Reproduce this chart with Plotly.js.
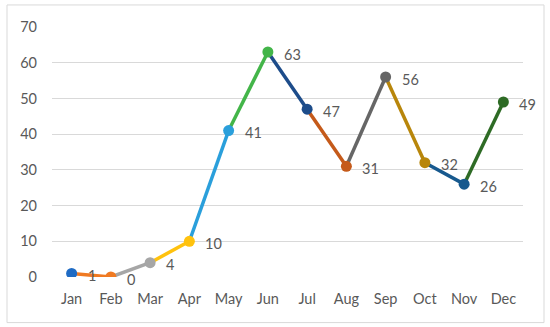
<!DOCTYPE html>
<html><head><meta charset="utf-8">
<script src="https://cdn.plot.ly/plotly-3.0.1.min.js"></script>
<style>html,body{margin:0;padding:0;background:#fff}#c{width:550px;height:327px}</style>
</head><body><div id="c"></div>
<script>
const months = ["Jan","Feb","Mar","Apr","May","Jun","Jul","Aug","Sep","Oct","Nov","Dec"];
const values = [1,0,4,10,41,63,47,31,56,32,26,49];
const colors = ["#1F6BC4","#F07A22","#A6A6A6","#FFC20E","#2A9FDB","#43B549","#1D4C8A","#C55A1A","#666666","#B8860B","#17598E","#2E6B25"];

const traces = [];
for (let i = 1; i < months.length; i++) {
  traces.push({x:[months[i-1],months[i]], y:[values[i-1],values[i]], type:'scatter', mode:'lines',
    line:{color:colors[i], width:3.5}, hoverinfo:'skip', showlegend:false});
}
traces.push({x:months, y:values, type:'scatter', mode:'markers',
  marker:{color:colors, size:11}, showlegend:false});

const annotations = months.map((m,i)=>({x:m, y:values[i], xref:'x', yref:'y', text:String(values[i]),
  showarrow:false, xanchor:'left', xshift:14, yshift:-2, font:{family:'Lato, sans-serif', size:14.5, color:'#595959'}}));

const layout = {
  width:550, height:327,
  margin:{l:52, r:27, t:27, b:50},
  paper_bgcolor:'#fff', plot_bgcolor:'#fff',
  font:{family:'Lato, sans-serif', size:14.5, color:'#595959'},
  xaxis:{type:'category', range:[-0.5,11.5], showgrid:false, zeroline:false, showline:false,
    ticks:'', ticklabelstandoff:11, fixedrange:true},
  yaxis:{range:[0,70], dtick:10, gridcolor:'#D9D9D9', gridwidth:1, zeroline:false, showline:false,
    ticks:'', ticklabelstandoff:14, fixedrange:true},
  annotations:annotations,
  shapes:[{type:'rect', xref:'paper', yref:'paper', x0:(7-52)/471, x1:(544-52)/471,
    y0:(276.5-322)/249.5, y1:(276.5-5)/249.5, line:{color:'#D9D9D9', width:1}, layer:'below'}]
};
Plotly.newPlot('c', traces, layout, {displayModeBar:false, staticPlot:true});
</script></body></html>
